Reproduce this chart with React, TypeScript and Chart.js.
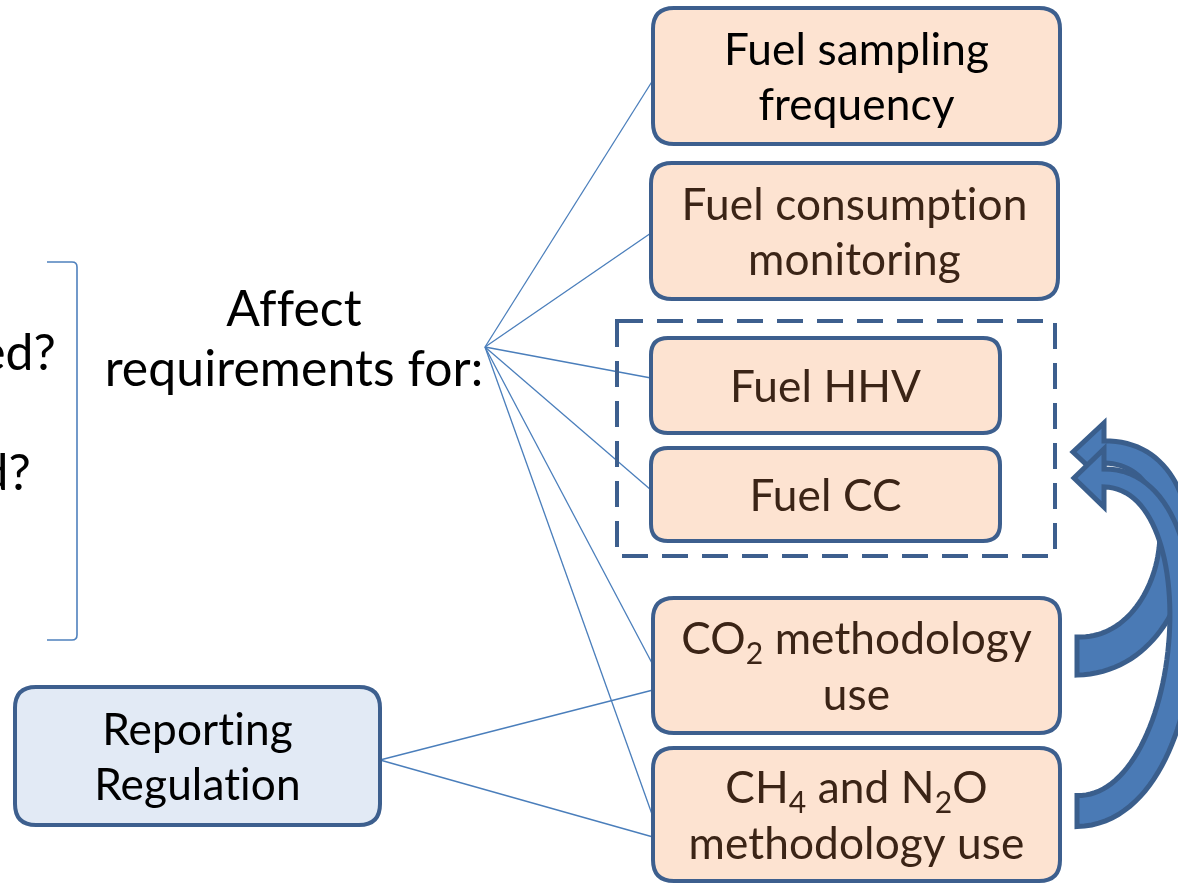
import React, { useEffect, useRef } from 'react';
import { Chart, registerables } from 'chart.js';
Chart.register(...registerables);

// ---- content ----
const boxLabels: string[][] = [
  ['Fuel sampling', 'frequency'],
  ['Fuel consumption', 'monitoring'],
  ['Fuel HHV'],
  ['Fuel CC'],
  ['CO_2 methodology', 'use'],
  ['CH_4 and N_2O', 'methodology use'],
];
const sourceLabel: string[] = ['Reporting', 'Regulation'];
const centerLabel: string[] = ['Affect', 'requirements for:'];
const questionFragments: string[] = ['ed?', 'd?'];

// ---- layout (pixel space of the diagram) ----
const boxLeft = [653, 651, 651, 651, 653, 653];
const boxRight = [1060, 1058, 1000, 1000, 1060, 1060];
const boxTop = [8, 163, 338, 448, 598, 748];
const boxBottom = [144, 299, 433, 541, 733, 881];
const boxTextColor = ['#000000', '#3b2416', '#3b2416', '#3b2416', '#3b2416', '#3b2416'];
const hubPoint = [485, 347];
const hubTargetsY = [80, 233, 378, 490, 665, 817];
const sourceBox = [15, 687, 380, 825];
const sourceTargetsY = [690, 837];
const dashedRect = [617, 321, 1055, 556];

const FAMILY = 'Lato, "Open Sans", "DejaVu Sans", sans-serif';
const BORDER = '#3d5f8e';
const PEACH = '#fde3d1';
const LIGHTBLUE = '#e2eaf5';
const LINK = '#4a7ebb';

function roundRect(ctx: CanvasRenderingContext2D, x0: number, y0: number, x1: number, y1: number, r: number) {
  ctx.beginPath();
  ctx.moveTo(x0 + r, y0);
  ctx.lineTo(x1 - r, y0);
  ctx.quadraticCurveTo(x1, y0, x1, y0 + r);
  ctx.lineTo(x1, y1 - r);
  ctx.quadraticCurveTo(x1, y1, x1 - r, y1);
  ctx.lineTo(x0 + r, y1);
  ctx.quadraticCurveTo(x0, y1, x0, y1 - r);
  ctx.lineTo(x0, y0 + r);
  ctx.quadraticCurveTo(x0, y0, x0 + r, y0);
  ctx.closePath();
}

function segments(line: string) {
  const parts = line.split(/(_\d)/).filter((p) => p.length > 0);
  return parts.map((p) => (p.startsWith('_') ? { t: p.slice(1), sub: true } : { t: p, sub: false }));
}

function drawLine(ctx: CanvasRenderingContext2D, line: string, cx: number, baseline: number, size: number, color: string) {
  const segs = segments(line);
  const subSize = size * 0.68;
  let total = 0;
  const widths = segs.map((s) => {
    ctx.font = `${s.sub ? subSize : size}px ${FAMILY}`;
    const w = ctx.measureText(s.t).width;
    total += w;
    return w;
  });
  let x = cx - total / 2;
  ctx.fillStyle = color;
  ctx.textAlign = 'left';
  ctx.textBaseline = 'alphabetic';
  segs.forEach((s, i) => {
    ctx.font = `${s.sub ? subSize : size}px ${FAMILY}`;
    ctx.fillText(s.t, x, baseline + (s.sub ? size * 0.22 : 0));
    x += widths[i];
  });
}

function drawBlockArrow(
  ctx: CanvasRenderingContext2D,
  P: number[][],
  w0: number,
  w1: number,
  headLen: number,
  headHalf: number
) {
  const N = 60;
  const left: number[][] = [];
  const right: number[][] = [];
  const bez = (t: number) => {
    const u = 1 - t;
    const x = u * u * u * P[0][0] + 3 * u * u * t * P[1][0] + 3 * u * t * t * P[2][0] + t * t * t * P[3][0];
    const y = u * u * u * P[0][1] + 3 * u * u * t * P[1][1] + 3 * u * t * t * P[2][1] + t * t * t * P[3][1];
    return [x, y];
  };
  const der = (t: number) => {
    const u = 1 - t;
    const x = 3 * u * u * (P[1][0] - P[0][0]) + 6 * u * t * (P[2][0] - P[1][0]) + 3 * t * t * (P[3][0] - P[2][0]);
    const y = 3 * u * u * (P[1][1] - P[0][1]) + 6 * u * t * (P[2][1] - P[1][1]) + 3 * t * t * (P[3][1] - P[2][1]);
    const l = Math.hypot(x, y) || 1;
    return [x / l, y / l];
  };
  for (let i = 0; i <= N; i++) {
    const t = i / N;
    const p = bez(t);
    const d = der(t);
    const n = [-d[1], d[0]];
    const w = (w0 + (w1 - w0) * t) / 2;
    left.push([p[0] + n[0] * w, p[1] + n[1] * w]);
    right.push([p[0] - n[0] * w, p[1] - n[1] * w]);
  }
  const end = bez(1);
  const d = der(1);
  const n = [-d[1], d[0]];
  ctx.beginPath();
  ctx.moveTo(left[0][0], left[0][1]);
  for (let i = 1; i <= N; i++) ctx.lineTo(left[i][0], left[i][1]);
  ctx.lineTo(end[0] + n[0] * headHalf, end[1] + n[1] * headHalf);
  ctx.lineTo(end[0] + d[0] * headLen, end[1] + d[1] * headLen);
  ctx.lineTo(end[0] - n[0] * headHalf, end[1] - n[1] * headHalf);
  for (let i = N; i >= 0; i--) ctx.lineTo(right[i][0], right[i][1]);
  ctx.closePath();
  ctx.fillStyle = '#4a7ab5';
  ctx.fill();
  ctx.strokeStyle = '#3a5e8c';
  ctx.lineWidth = 5;
  ctx.lineJoin = 'miter';
  ctx.stroke();
}

const diagramPlugin = {
  id: 'diagram',
  afterDatasetsDraw(chart: any) {
    const ctx: CanvasRenderingContext2D = chart.ctx;
    const sx = (v: number) => chart.scales.x.getPixelForValue(v);
    const sy = (v: number) => chart.scales.y.getPixelForValue(v);

    ctx.save();
    try {
      (ctx as any).letterSpacing = '0.1px';
    } catch (e) {}
    ctx.font = `100px ${FAMILY}`;
    const F = (100 * 345) / ctx.measureText('Fuel consumption').width;
    const F2 = (100 * 378) / ctx.measureText('requirements for:').width;
    const LH = F * 1.25;
    const capHalf = F * 0.33;

    // brace
    ctx.strokeStyle = '#4f81bd';
    ctx.lineWidth = 1.6;
    ctx.beginPath();
    ctx.moveTo(sx(47), sy(262));
    ctx.lineTo(sx(72), sy(262));
    ctx.quadraticCurveTo(sx(77), sy(262), sx(77), sy(267));
    ctx.lineTo(sx(77), sy(635));
    ctx.quadraticCurveTo(sx(77), sy(640), sx(72), sy(640));
    ctx.lineTo(sx(47), sy(640));
    ctx.stroke();

    // dashed group rectangle
    ctx.setLineDash([26, 14]);
    ctx.strokeStyle = BORDER;
    ctx.lineWidth = 4;
    ctx.strokeRect(sx(dashedRect[0]), sy(dashedRect[1]), sx(dashedRect[2]) - sx(dashedRect[0]), sy(dashedRect[3]) - sy(dashedRect[1]));
    ctx.setLineDash([]);

    // boxes
    boxLabels.forEach((lines, i) => {
      const x0 = sx(boxLeft[i]), x1 = sx(boxRight[i]);
      const y0 = sy(boxTop[i]), y1 = sy(boxBottom[i]);
      roundRect(ctx, x0, y0, x1, y1, lines.length > 1 ? 21 : 17);
      ctx.fillStyle = PEACH;
      ctx.fill();
      ctx.strokeStyle = BORDER;
      ctx.lineWidth = 4;
      ctx.stroke();
      const cx = (x0 + x1) / 2;
      const cy = (y0 + y1) / 2;
      lines.forEach((ln, j) => {
        const b = cy + (j - (lines.length - 1) / 2) * LH + capHalf + 2;
        drawLine(ctx, ln, cx, b, F, boxTextColor[i]);
      });
    });

    // source box
    {
      const x0 = sx(sourceBox[0]), y0 = sy(sourceBox[1]), x1 = sx(sourceBox[2]), y1 = sy(sourceBox[3]);
      roundRect(ctx, x0, y0, x1, y1, 21);
      ctx.fillStyle = LIGHTBLUE;
      ctx.fill();
      ctx.strokeStyle = BORDER;
      ctx.lineWidth = 4;
      ctx.stroke();
      const cx = (x0 + x1) / 2, cy = (y0 + y1) / 2;
      sourceLabel.forEach((ln, j) => {
        drawLine(ctx, ln, cx, cy + (j - 0.5) * LH + capHalf + 2, F, '#000000');
      });
    }

    // center label
    centerLabel.forEach((ln, j) => {
      drawLine(ctx, ln, sx(294), sy(326) + j * 60, F2, '#000000');
    });

    // cut-off question fragments
    ctx.font = `${F2}px ${FAMILY}`;
    ctx.fillStyle = '#000000';
    ctx.textAlign = 'right';
    ctx.fillText(questionFragments[0], sx(56), sy(370));
    ctx.fillText(questionFragments[1], sx(31), sy(490));

    // curved block arrows
    drawBlockArrow(ctx, [[sx(1077), sy(656)], [sx(1190), sy(656)], [sx(1212), sy(452)], [sx(1104), sy(452)]], 38, 22, 31, 29);
    drawBlockArrow(ctx, [[sx(1077), sy(811)], [sx(1200), sy(811)], [sx(1222), sy(478)], [sx(1104), sy(478)]], 31, 18, 30, 29);

    ctx.restore();
  },
};

export default function App() {
  const ref = useRef<HTMLCanvasElement | null>(null);
  useEffect(() => {
    if (!ref.current) return;
    const hubSets = hubTargetsY.map((ty, i) => ({
      type: 'line' as const,
      data: [
        { x: hubPoint[0], y: hubPoint[1] },
        { x: boxLeft[i], y: ty },
      ],
      borderColor: LINK,
      borderWidth: 1.3,
      pointRadius: 0,
      fill: false,
    }));
    const srcSets = sourceTargetsY.map((ty, i) => ({
      type: 'line' as const,
      data: [
        { x: sourceBox[2], y: (sourceBox[1] + sourceBox[3]) / 2 + 4 },
        { x: boxLeft[4 + i], y: ty },
      ],
      borderColor: LINK,
      borderWidth: 1.3,
      pointRadius: 0,
      fill: false,
    }));
    const chart = new Chart(ref.current, {
      type: 'scatter',
      data: { datasets: [...hubSets, ...srcSets] as any },
      options: {
        animation: false,
        responsive: false,
        devicePixelRatio: 1,
        layout: { padding: 0 },
        plugins: { legend: { display: false }, tooltip: { enabled: false } },
        scales: {
          x: { type: 'linear', min: 0, max: 1178, display: false },
          y: { type: 'linear', min: 0, max: 884, reverse: true, display: false },
        },
      },
      plugins: [diagramPlugin],
    });
    return () => chart.destroy();
  }, []);
  return (
    <div style={{ position: 'absolute', left: 0, top: 0, width: 1178, height: 884, background: '#ffffff' }}>
      <canvas ref={ref} width={1178} height={884} />
    </div>
  );
}
